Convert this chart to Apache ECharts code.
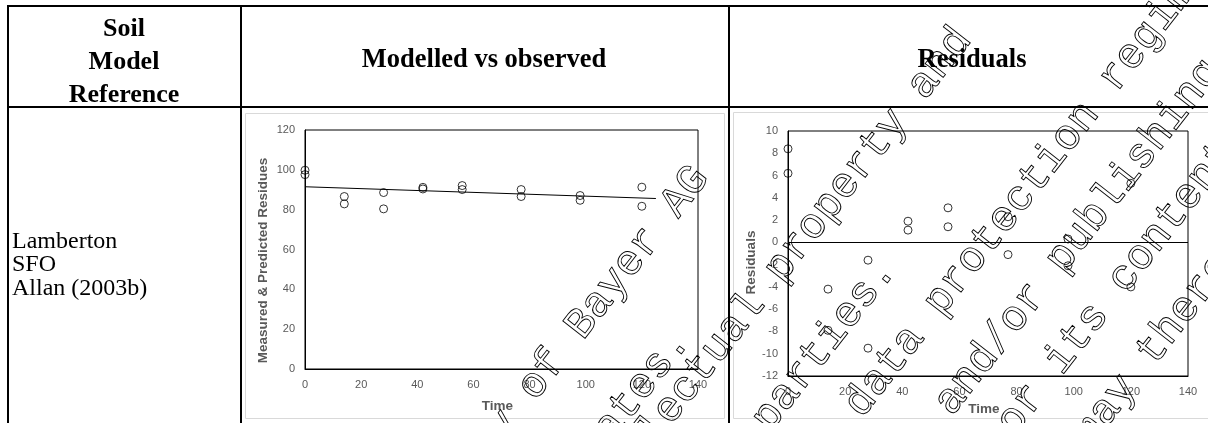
<!DOCTYPE html>
<html>
<head>
<meta charset="utf-8">
<script src="https://cdn.jsdelivr.net/npm/echarts@6/dist/echarts.min.js"></script>
<style>
html, body { margin: 0; padding: 0; background: #fff; }
#main { width: 1208px; height: 423px; }
</style>
</head>
<body>
<div id="main"></div>
<script>
// sampling days
var times = [0, 14, 28, 42, 56, 77, 98, 120];
// measured residues (two replicates)
var measuredA = [99.8, 86.6, 88.6, 91.2, 92.1, 90.1, 87.1, 91.3];
var measuredB = [97.6, 82.9, 80.4, 90.4, 90.1, 86.6, 84.7, 81.7];
// SFO fit as drawn in the chart
var fitTimes = [0, 125];
var fitValues = [91.5, 85.6];
// residuals (two replicates)
var residualA = [8.4, -4.2, -1.6, 1.9, 3.1, 2.3, 0.3, 5.3];
var residualB = [6.2, -7.9, -9.5, 1.1, 1.4, -1.1, -2.1, -4.0];

var headSoil = 'Soil\nModel\nReference';
var headFit = 'Modelled vs observed';
var headRes = 'Residuals';
var rowLabel = 'Lamberton\nSFO\nAllan (2003b)';

// diagonal watermark lines (text, word to anchor, baseline start of that word)
var watermark = [
  { text: 'This document is the property of Bayer AG', at: 'Bayer', x: 584, y: 342 },
  { text: 'and/or any of its affiliates.', at: '.', x: 676, y: 363 },
  { text: 'It may be subject to rights such as intellectual property and', at: 'and', x: 926, y: 102 },
  { text: 'copyright of the owner and third parties.', at: '.', x: 882, y: 292 },
  { text: 'Furthermore, this document may fall under a regulatory data protection regime.', at: 'data', x: 863, y: 420 },
  { text: 'Consequently, any publication, distribution, reproduction and/or publishing and any', at: 'and/or', x: 953, y: 418 },
  { text: 'commercial exploitation and use of this document or its contents without the', at: 'its', x: 1063, y: 377 },
  { text: 'permission of the owner of this document may therefore be prohibited', at: 'therefore', x: 1155, y: 368 }
];

var chart = echarts.init(document.getElementById('main'));

function pairs(xs, ys) {
  return xs.map(function (x, i) { return [x, ys[i]]; });
}

var labelStyle = { color: '#595959', fontSize: 11, fontFamily: 'Liberation Sans' };
function nameStyle(pad) {
  return { color: '#595959', fontSize: 13.5, fontWeight: 'bold', fontFamily: 'Liberation Sans', padding: pad };
}
var circle = {
  type: 'scatter', symbol: 'circle', symbolSize: 8,
  itemStyle: { color: 'rgba(255,255,255,0)', borderColor: '#000', borderWidth: 1 }
};

function xAxisCfg(idx, gap) {
  return {
    gridIndex: idx, type: 'value', min: 0, max: 140, interval: 20,
    name: 'Time', nameLocation: 'middle', nameGap: gap, nameTextStyle: nameStyle([0, 8, 0, 0]),
    axisLine: { show: true, onZero: false, lineStyle: { color: '#000' } },
    axisTick: { show: false }, splitLine: { show: false },
    axisLabel: Object.assign({ margin: 10 }, labelStyle)
  };
}

var ang = 52 * Math.PI / 180;
var fs = 43, adv = fs * 0.6;
var dx = Math.cos(ang), dy = -Math.sin(ang);
var nx = Math.sin(ang), ny = Math.cos(ang);
function markText(line) {
  var idx = line.text.lastIndexOf(line.at);
  return {
    type: 'text', silent: true, z: 100, rotation: ang,
    x: line.x - idx * adv * dx - 0.3 * fs * nx,
    y: line.y - idx * adv * dy - 0.3 * fs * ny,
    style: {
      text: line.text, font: fs + 'px "Liberation Mono"',
      fill: 'rgba(0,0,0,0)', stroke: '#000', lineWidth: 0.9,
      textAlign: 'left', textVerticalAlign: 'middle'
    }
  };
}

var graphics = [
  // table rules
  { type: 'rect', shape: { x: 7, y: 5, width: 1210, height: 2 }, style: { fill: '#000' } },
  { type: 'rect', shape: { x: 7, y: 106, width: 1210, height: 2 }, style: { fill: '#000' } },
  { type: 'rect', shape: { x: 7, y: 5, width: 2, height: 430 }, style: { fill: '#000' } },
  { type: 'rect', shape: { x: 240, y: 5, width: 2, height: 430 }, style: { fill: '#000' } },
  { type: 'rect', shape: { x: 728, y: 5, width: 2, height: 430 }, style: { fill: '#000' } },
  // chart frames
  { type: 'rect', shape: { x: 245.5, y: 113.5, width: 479, height: 305 }, style: { fill: 'none', stroke: '#d9d9d9' } },
  { type: 'rect', shape: { x: 733.5, y: 112.5, width: 490, height: 306 }, style: { fill: 'none', stroke: '#d9d9d9' } },
  // cell texts
  { type: 'text', x: 124, y: 62, style: { text: headSoil, font: 'bold 26px "Liberation Serif"', lineHeight: 33, fill: '#000', textAlign: 'center', textVerticalAlign: 'middle' } },
  { type: 'text', x: 484, y: 60, style: { text: headFit, font: 'bold 26.5px "Liberation Serif"', fill: '#000', textAlign: 'center', textVerticalAlign: 'middle' } },
  { type: 'text', x: 972, y: 60, style: { text: headRes, font: 'bold 26.5px "Liberation Serif"', fill: '#000', textAlign: 'center', textVerticalAlign: 'middle' } },
  { type: 'text', x: 12, y: 265, style: { text: rowLabel, font: '24px "Liberation Serif"', lineHeight: 23.5, fill: '#000', textAlign: 'left', textVerticalAlign: 'middle' } }
].concat(watermark.map(markText));

var option = {
  animation: false,
  grid: [
    { left: 305, top: 130, width: 393, height: 239, show: true, borderColor: '#000', borderWidth: 1 },
    { left: 788, top: 131, width: 400, height: 245, show: true, borderColor: '#000', borderWidth: 1 }
  ],
  xAxis: [xAxisCfg(0, 30), xAxisCfg(1, 24)],
  yAxis: [
    {
      gridIndex: 0, type: 'value', min: 0, max: 120, interval: 20,
      name: 'Measured & Predicted Residues', nameLocation: 'middle', nameGap: 35, nameTextStyle: nameStyle([0, 22, 0, 0]),
      axisLine: { show: true, lineStyle: { color: '#000' } },
      axisTick: { show: false }, splitLine: { show: false },
      axisLabel: Object.assign({ margin: 10 }, labelStyle)
    },
    {
      gridIndex: 1, type: 'value', min: -12, max: 10, interval: 2,
      name: 'Residuals', nameLocation: 'middle', nameGap: 30, nameTextStyle: nameStyle([0, 18, 0, 0]),
      axisLine: { show: true, onZero: false, lineStyle: { color: '#000' } },
      axisTick: { show: false }, splitLine: { show: false },
      axisLabel: Object.assign({ margin: 10 }, labelStyle)
    }
  ],
  series: [
    Object.assign({ xAxisIndex: 0, yAxisIndex: 0, data: pairs(times, measuredA) }, circle),
    Object.assign({ xAxisIndex: 0, yAxisIndex: 0, data: pairs(times, measuredB) }, circle),
    {
      type: 'line', xAxisIndex: 0, yAxisIndex: 0, data: pairs(fitTimes, fitValues),
      symbol: 'none', lineStyle: { color: '#000', width: 1 }
    },
    Object.assign({ xAxisIndex: 1, yAxisIndex: 1, data: pairs(times, residualA) }, circle),
    Object.assign({
      xAxisIndex: 1, yAxisIndex: 1, data: pairs(times, residualB),
      markLine: {
        silent: true, symbol: 'none', label: { show: false },
        lineStyle: { color: '#000', width: 1, type: 'solid' },
        data: [{ yAxis: 0 }]
      }
    }, circle)
  ],
  graphic: graphics
};
chart.setOption(option);
</script>
</body>
</html>
